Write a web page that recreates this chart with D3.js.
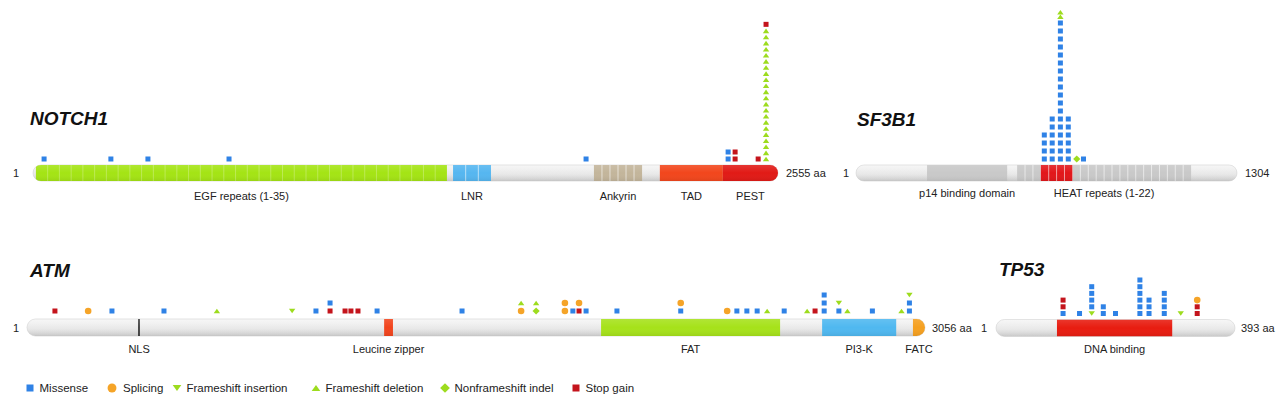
<!DOCTYPE html>
<html><head><meta charset="utf-8">
<script src="https://cdn.jsdelivr.net/npm/d3@7"></script>
<style>
body{margin:0;background:#fff;}
svg{display:block;font-family:"Liberation Sans",Arial,Helvetica,sans-serif;}
</style>
</head><body>
<svg id="chart" width="1280" height="406"></svg>
<script>
// ---------------- DATA ----------------
const geneNames   = ["NOTCH1", "SF3B1", "ATM", "TP53"];
const geneLengths = [2555, 1304, 3056, 393];
const endLabels   = ["2555 aa", "1304", "3056 aa", "393 aa"];

// [label, start aa, end aa, colour key, number of repeat segments]
const notch1Domains = [
  ["EGF repeats (1-35)", 11, 1420, "egf", 35],
  ["LNR", 1441, 1571, "lnr", 3],
  ["Ankyrin", 1924, 2089, "ank", 6],
  ["TAD", 2150, 2366, "tad", 1],
  ["PEST", 2366, 2555, "pest", 1]
];
const sf3b1Domains = [
  ["p14 binding domain", 244, 518, "gray", 1],
  ["HEAT repeats (1-22)", 552, 1147, "gray", 22],
  ["", 633, 741, "heat", 4]
];
const atmDomains = [
  ["NLS", 382, 383, "line", 1],
  ["Leucine zipper", 1216, 1246, "lz", 1],
  ["FAT", 1954, 2563, "fat", 1],
  ["PI3-K", 2706, 2958, "pi3k", 1],
  ["FATC", 3015, 3056, "fatc", 1]
];
const tp53Domains = [
  ["DNA binding", 101, 290, "dbd", 1]
];

// [position aa, mutation type, count] (stacked bottom to top in this order)
const notch1Mutations = [
  [39, "missense", 1], [268, "missense", 1], [395, "missense", 1], [673, "missense", 1],
  [1897, "missense", 1], [2384, "missense", 2], [2408, "stop", 2], [2487, "stop", 1],
  [2514, "fs_del", 22], [2514, "stop", 1]
];
const sf3b1Mutations = [
  [645, "missense", 4], [672, "missense", 6], [700, "missense", 18], [700, "fs_del", 2],
  [727, "missense", 6], [756, "nonfs", 1], [779, "missense", 1]
];
const atmMutations = [
  [96, "stop", 1], [209, "splicing", 1], [290, "missense", 1], [467, "missense", 1],
  [647, "fs_del", 1], [903, "fs_ins", 1], [984, "missense", 1],
  [1032, "stop", 1], [1032, "missense", 1],
  [1083, "stop", 1], [1103, "stop", 1], [1127, "stop", 1], [1192, "missense", 1],
  [1481, "missense", 1],
  [1682, "splicing", 1], [1682, "fs_del", 1],
  [1733, "nonfs", 1], [1733, "fs_del", 1],
  [1831, "splicing", 2], [1858, "missense", 1],
  [1879, "stop", 1], [1879, "splicing", 1], [1903, "missense", 1],
  [2008, "missense", 1], [2225, "missense", 1], [2225, "splicing", 1],
  [2383, "splicing", 1], [2416, "missense", 1], [2450, "missense", 1], [2485, "missense", 1],
  [2519, "fs_del", 1], [2577, "missense", 1], [2655, "fs_del", 1], [2682, "stop", 1],
  [2713, "missense", 3], [2763, "missense", 1], [2763, "fs_ins", 1], [2792, "fs_del", 1],
  [2877, "missense", 1], [2976, "fs_del", 1],
  [3003, "missense", 2], [3003, "fs_ins", 1]
];
const tp53Mutations = [
  [111, "missense", 1], [111, "stop", 2], [138, "missense", 1],
  [158, "fs_ins", 1], [158, "missense", 4], [177, "missense", 2], [197, "missense", 1],
  [237, "missense", 6], [252, "missense", 3], [277, "missense", 4],
  [304, "fs_ins", 1], [331, "stop", 2], [331, "splicing", 1]
];

const legendTypes  = ["missense", "splicing", "fs_ins", "fs_del", "nonfs", "stop"];
const legendLabels = ["Missense", "Splicing", "Frameshift insertion", "Frameshift deletion", "Nonframeshift indel", "Stop gain"];

// ---------------- STYLE / LAYOUT ----------------
const typeColor = {
  missense: "#2f82e6", splicing: "#f5a428", fs_ins: "#9ddc1e", fs_del: "#9ddc1e",
  nonfs: "#9ddc1e", stop: "#c4141c"
};
const domainColor = {
  egf: "#a4e414", lnr: "#55b6f0", ank: "#c3b59b", tad: "#f2461c", pest: "#e11a16",
  gray: "#c9c9c9", heat: "#e2161a", lz: "#f2441c", fat: "#a6e21a", pi3k: "#4fb8f0",
  fatc: "#f5a020", dbd: "#e81c10"
};
const layout = [
  {x0: 33, x1: 778, yc: 173, h: 16, titleX: 30, titleY: 125, startX: 16, endX: 786, labelY: 200, base: 159, sq: 7, tri: 6.1},
  {x0: 856, x1: 1237, yc: 173, h: 16, titleX: 857, titleY: 126, startX: 846, endX: 1245, labelY: 197, base: 159, sq: 8, tri: 4.5},
  {x0: 27, x1: 925, yc: 327.5, h: 17, titleX: 30, titleY: 277, startX: 16, endX: 932, labelY: 353, base: 311, sq: 8, tri: 8},
  {x0: 996, x1: 1235, yc: 328, h: 17, titleX: 999, titleY: 276, startX: 984, endX: 1241, labelY: 353, base: 313.5, sq: 6.7, tri: 6.7}
];
const allDomains = [notch1Domains, sf3b1Domains, atmDomains, tp53Domains];
const allMutations = [notch1Mutations, sf3b1Mutations, atmMutations, tp53Mutations];

const svg = d3.select("#chart");
const defs = svg.append("defs");

const barGrad = defs.append("linearGradient").attr("id", "barGrad").attr("x1", 0).attr("y1", 0).attr("x2", 0).attr("y2", 1);
barGrad.append("stop").attr("offset", "0%").attr("stop-color", "#f6f6f6");
barGrad.append("stop").attr("offset", "55%").attr("stop-color", "#e9e9e9");
barGrad.append("stop").attr("offset", "100%").attr("stop-color", "#d6d6d6");

const shadeGrad = defs.append("linearGradient").attr("id", "shadeGrad").attr("x1", 0).attr("y1", 0).attr("x2", 0).attr("y2", 1);
shadeGrad.append("stop").attr("offset", "0%").attr("stop-color", "#fff").attr("stop-opacity", 0.12);
shadeGrad.append("stop").attr("offset", "50%").attr("stop-color", "#fff").attr("stop-opacity", 0);
shadeGrad.append("stop").attr("offset", "100%").attr("stop-color", "#000").attr("stop-opacity", 0.07);

function drawSymbol(g, type, x, y, k) {
  const c = typeColor[type];
  if (type === "missense" || type === "stop") {
    const s = 5 * k;
    g.append("rect").attr("x", x - s / 2).attr("y", y - s / 2).attr("width", s).attr("height", s).attr("fill", c);
  } else if (type === "splicing") {
    g.append("circle").attr("cx", x).attr("cy", y).attr("r", 3.3 * k).attr("fill", c);
  } else if (type === "fs_del") {
    const w = 3.2 * k, hh = 2.3 * k;
    g.append("path").attr("d", `M${x - w},${y + hh}L${x + w},${y + hh}L${x},${y - hh}Z`).attr("fill", c);
  } else if (type === "fs_ins") {
    const w = 3.2 * k, hh = 2.3 * k;
    g.append("path").attr("d", `M${x - w},${y - hh}L${x + w},${y - hh}L${x},${y + hh}Z`).attr("fill", c);
  } else if (type === "nonfs") {
    const d = 3.6 * k;
    g.append("path").attr("d", `M${x},${y - d}L${x + d},${y}L${x},${y + d}L${x - d},${y}Z`).attr("fill", c);
  }
}

geneNames.forEach((name, gi) => {
  const L = layout[gi];
  const len = geneLengths[gi];
  const x = d3.scaleLinear().domain([1, len]).range([L.x0, L.x1]);
  const g = svg.append("g");
  const top = L.yc - L.h / 2;

  g.append("text").attr("x", L.titleX).attr("y", L.titleY).text(name)
    .attr("font-size", 19).attr("font-weight", "bold").attr("font-style", "italic").attr("fill", "#111");

  g.append("text").attr("x", L.startX).attr("y", L.yc + 4).attr("text-anchor", "middle")
    .attr("font-size", 11).attr("fill", "#222").text("1");
  g.append("text").attr("x", L.endX).attr("y", L.yc + 4)
    .attr("font-size", 11).attr("fill", "#222").text(endLabels[gi]);

  const clipId = "clip" + gi;
  defs.append("clipPath").attr("id", clipId).append("rect")
    .attr("x", x(1)).attr("y", top).attr("width", x(len) - x(1)).attr("height", L.h).attr("rx", L.h / 2);
  g.append("rect").attr("x", x(1)).attr("y", top).attr("width", x(len) - x(1)).attr("height", L.h)
    .attr("rx", L.h / 2).attr("fill", "url(#barGrad)").attr("stroke", "#d2d2d2").attr("stroke-width", 0.6);

  const dg = g.append("g").attr("clip-path", `url(#${clipId})`);
  allDomains[gi].forEach(([label, s, e, key, nSeg]) => {
    if (key === "line") {
      dg.append("line").attr("x1", x(s)).attr("x2", x(s)).attr("y1", top).attr("y2", top + L.h)
        .attr("stroke", "#222").attr("stroke-width", 1.6);
    } else {
      dg.append("rect").attr("x", x(s)).attr("y", top).attr("width", x(e) - x(s)).attr("height", L.h)
        .attr("fill", domainColor[key]);
      for (let i = 1; i < nSeg; i++) {
        const xx = x(s) + (x(e) - x(s)) * i / nSeg;
        dg.append("line").attr("x1", xx).attr("x2", xx).attr("y1", top).attr("y2", top + L.h)
          .attr("stroke", "#fff").attr("stroke-opacity", key === "egf" ? 0.35 : 0.75).attr("stroke-width", 0.8);
      }
    }
    if (label) {
      g.append("text").attr("x", (x(s) + x(e)) / 2).attr("y", L.labelY).attr("text-anchor", "middle")
        .attr("font-size", 11).attr("fill", "#222").text(label);
    }
  });
  dg.append("rect").attr("x", x(1)).attr("y", top).attr("width", x(len) - x(1)).attr("height", L.h)
    .attr("fill", "url(#shadeGrad)");

  const tops = new Map();
  const stepOf = t => (t === "fs_ins" || t === "fs_del") ? L.tri : L.sq;
  const mg = g.append("g");
  allMutations[gi].forEach(([pos, type, n]) => {
    for (let i = 0; i < n; i++) {
      const prev = tops.get(pos);
      const y = prev ? prev.y - (stepOf(prev.type) + stepOf(type)) / 2 : L.base;
      tops.set(pos, {y, type});
      drawSymbol(mg, type, x(pos), y, 1);
    }
  });
});

// legend
const legendSymX = [30, 112, 177, 316, 445, 576];
const legendY = 388;
const lg = svg.append("g");
legendTypes.forEach((t, i) => {
  drawSymbol(lg, t, legendSymX[i], legendY, t === "missense" || t === "stop" ? 1.4 : 1.35);
  lg.append("text").attr("x", legendSymX[i] + (t === "splicing" ? 11 : 9.5)).attr("y", legendY + 4)
    .attr("font-size", 11.5).attr("fill", "#222").text(legendLabels[i]);
});
</script>
</body></html>
